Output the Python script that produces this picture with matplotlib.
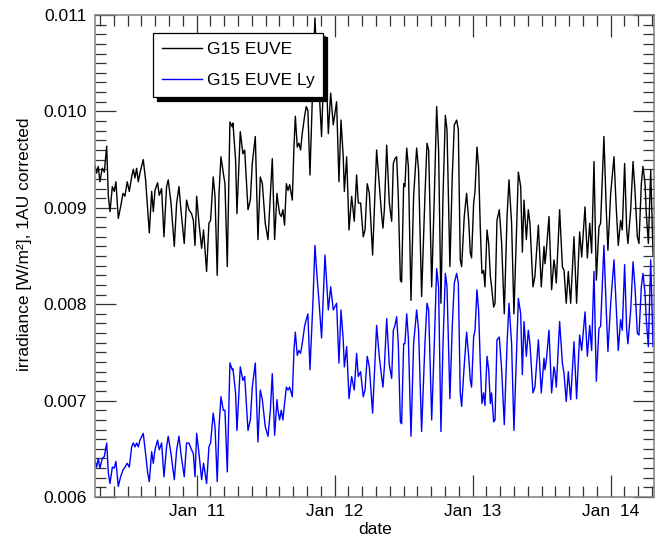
import matplotlib
matplotlib.use("Agg")
import matplotlib.pyplot as plt
from matplotlib.ticker import MultipleLocator, FixedLocator, FixedFormatter

plt.rcParams['font.family'] = ['Liberation Sans', 'DejaVu Sans']

# time in fractional day of January 2014
t_day = [
    10.263, 10.275, 10.287, 10.299, 10.316, 10.331, 10.348, 10.360, 10.372, 10.389,
    10.403, 10.415, 10.432, 10.449, 10.466, 10.480, 10.497, 10.512, 10.529, 10.541,
    10.553, 10.565, 10.577, 10.589, 10.613, 10.630, 10.645, 10.657, 10.674, 10.686,
    10.698, 10.717, 10.729, 10.746, 10.763, 10.782, 10.794, 10.814, 10.838, 10.855,
    10.872, 10.886, 10.910, 10.927, 10.944, 10.963, 10.976, 10.988, 11.000, 11.017,
    11.036, 11.050, 11.072, 11.089, 11.101, 11.120, 11.133, 11.149, 11.162, 11.176,
    11.193, 11.205, 11.222, 11.241, 11.258,
    11.263, 11.282, 11.292, 11.316, 11.335, 11.348, 11.372, 11.389, 11.403, 11.425,
    11.444, 11.461, 11.476, 11.497, 11.517, 11.534, 11.548, 11.565, 11.582, 11.589,
    11.601, 11.613, 11.625, 11.637, 11.650, 11.662, 11.674, 11.693, 11.705, 11.715,
    11.729, 11.741, 11.753, 11.765, 11.782, 11.794, 11.806, 11.821, 11.843, 11.857,
    11.872, 11.886, 11.905, 11.930, 11.954, 11.971, 11.990, 12.014, 12.031, 12.046,
    12.062, 12.070, 12.087, 12.104, 12.123, 12.142, 12.159, 12.171, 12.188, 12.207,
    12.220, 12.236, 12.251,
    12.275, 12.304, 12.323, 12.340, 12.350, 12.360, 12.377, 12.396, 12.413, 12.425,
    12.437, 12.449, 12.461, 12.476, 12.485, 12.500, 12.509, 12.522, 12.534, 12.553,
    12.572, 12.594, 12.608, 12.630, 12.654, 12.669, 12.681, 12.703, 12.722, 12.739,
    12.753, 12.770, 12.785, 12.802, 12.814, 12.835, 12.852, 12.867, 12.884, 12.896,
    12.910, 12.920, 12.939, 12.956, 12.971, 12.983, 12.992, 13.007, 13.017, 13.031,
    13.043, 13.055, 13.067, 13.079, 13.089, 13.104, 13.116, 13.128, 13.137, 13.152,
    13.162, 13.176, 13.193, 13.210, 13.229, 13.249,
    13.263, 13.282, 13.299, 13.331, 13.348, 13.360, 13.372, 13.389, 13.403, 13.415,
    13.437, 13.451, 13.476, 13.497, 13.517, 13.524, 13.534, 13.553, 13.572, 13.589,
    13.596, 13.606, 13.630, 13.650, 13.662, 13.678, 13.693, 13.710, 13.734, 13.753,
    13.775, 13.790, 13.814, 13.831, 13.848, 13.862, 13.879, 13.896, 13.915, 13.927,
    13.951, 13.968, 13.980, 14.000, 14.024, 14.041, 14.055, 14.072, 14.084, 14.101,
    14.116, 14.125, 14.145, 14.162, 14.176, 14.193, 14.205, 14.222, 14.234, 14.249,
    14.258, 14.273, 14.290, 14.307,
]

# G15 EUVE irradiance, 1 AU corrected [W/m^2]
euve = [
    0.00944, 0.00936, 0.00943, 0.00927, 0.00941, 0.00937, 0.00964, 0.00912, 0.00896, 0.00922,
    0.00917, 0.00927, 0.00889, 0.00901, 0.00915, 0.00912, 0.00927, 0.00917, 0.00932, 0.00940,
    0.00931, 0.00941, 0.00927, 0.00936, 0.00950, 0.00929, 0.00898, 0.00874, 0.00917, 0.00896,
    0.00918, 0.00926, 0.00913, 0.00920, 0.00870, 0.00922, 0.00929, 0.00905, 0.00860, 0.00905,
    0.00922, 0.00898, 0.00863, 0.00908, 0.00898, 0.00894, 0.00887, 0.00861, 0.00912, 0.00884,
    0.00858, 0.00877, 0.00834, 0.00884, 0.00887, 0.00932, 0.00912, 0.00830, 0.00915, 0.00953,
    0.00936, 0.00925, 0.00839, 0.00989, 0.00984,
    0.00988, 0.00950, 0.00894, 0.00979, 0.00956, 0.00960, 0.00898, 0.00908, 0.00946, 0.00974,
    0.00867, 0.00932, 0.00925, 0.00884, 0.00867, 0.00912, 0.00951, 0.00867, 0.00915, 0.00906,
    0.00894, 0.00891, 0.00898, 0.00882, 0.00925, 0.00918, 0.00924, 0.00908, 0.00963, 0.00995,
    0.00963, 0.00967, 0.00960, 0.00977, 0.00995, 0.01005, 0.01001, 0.00934, 0.01036, 0.01097,
    0.01046, 0.01026, 0.00974, 0.01078, 0.00977, 0.01019, 0.00986, 0.01010, 0.00927, 0.00991,
    0.00953, 0.00917, 0.00953, 0.00877, 0.00912, 0.00886, 0.00934, 0.00905, 0.00905, 0.00870,
    0.00877, 0.00925, 0.00915,
    0.00851, 0.00960, 0.00925, 0.00893, 0.00879, 0.00898, 0.00965, 0.00905, 0.00886, 0.00946,
    0.00951, 0.00953, 0.00912, 0.00825, 0.00823, 0.00925, 0.00922, 0.00962, 0.00943, 0.00804,
    0.00912, 0.00962, 0.00939, 0.00808, 0.00912, 0.00967, 0.00960, 0.00818, 0.00912, 0.01005,
    0.00960, 0.00801, 0.00912, 0.00996, 0.00981, 0.00839, 0.00932, 0.00986, 0.00991, 0.00981,
    0.00846, 0.00839, 0.00891, 0.00915, 0.00887, 0.00853, 0.00848, 0.00905, 0.00917, 0.00963,
    0.00943, 0.00880, 0.00832, 0.00835, 0.00818, 0.00877, 0.00863, 0.00829, 0.00818, 0.00797,
    0.00801, 0.00887, 0.00898, 0.00863, 0.00790, 0.00891,
    0.00929, 0.00884, 0.00790, 0.00937, 0.00922, 0.00854, 0.00908, 0.00867, 0.00898, 0.00884,
    0.00818, 0.00829, 0.00882, 0.00818, 0.00860, 0.00842, 0.00856, 0.00891, 0.00815, 0.00846,
    0.00839, 0.00822, 0.00898, 0.00839, 0.00835, 0.00801, 0.00834, 0.00801, 0.00870, 0.00801,
    0.00875, 0.00849, 0.00901, 0.00848, 0.00884, 0.00853, 0.00948, 0.00825, 0.00880, 0.00884,
    0.00974, 0.00898, 0.00856, 0.00915, 0.00953, 0.00898, 0.00861, 0.00887, 0.00877, 0.00946,
    0.00877, 0.00863, 0.00898, 0.00948, 0.00918, 0.00870, 0.00863, 0.00925, 0.00943, 0.00925,
    0.00894, 0.00863, 0.00939, 0.00851,
]

# G15 EUVE Lyman-alpha irradiance, 1 AU corrected [W/m^2]
euve_ly = [
    0.00638, 0.00631, 0.00640, 0.00630, 0.00640, 0.00642, 0.00656, 0.00625, 0.00614, 0.00631,
    0.00630, 0.00637, 0.00611, 0.00621, 0.00628, 0.00631, 0.00635, 0.00631, 0.00652, 0.00656,
    0.00652, 0.00656, 0.00652, 0.00659, 0.00666, 0.00645, 0.00625, 0.00616, 0.00647, 0.00635,
    0.00649, 0.00659, 0.00649, 0.00656, 0.00621, 0.00652, 0.00663, 0.00645, 0.00618, 0.00649,
    0.00663, 0.00645, 0.00621, 0.00656, 0.00656, 0.00649, 0.00645, 0.00621, 0.00666, 0.00645,
    0.00618, 0.00635, 0.00614, 0.00652, 0.00656, 0.00687, 0.00673, 0.00616, 0.00673, 0.00704,
    0.00690, 0.00690, 0.00626, 0.00739, 0.00732,
    0.00733, 0.00708, 0.00669, 0.00735, 0.00721, 0.00725, 0.00669, 0.00680, 0.00714, 0.00739,
    0.00657, 0.00711, 0.00701, 0.00673, 0.00663, 0.00690, 0.00728, 0.00664, 0.00701, 0.00690,
    0.00680, 0.00690, 0.00680, 0.00697, 0.00714, 0.00711, 0.00714, 0.00704, 0.00752, 0.00771,
    0.00747, 0.00752, 0.00749, 0.00759, 0.00777, 0.00784, 0.00790, 0.00732, 0.00804, 0.00861,
    0.00829, 0.00804, 0.00765, 0.00851, 0.00794, 0.00818, 0.00794, 0.00801, 0.00739, 0.00794,
    0.00763, 0.00735, 0.00756, 0.00702, 0.00725, 0.00711, 0.00749, 0.00725, 0.00730, 0.00704,
    0.00711, 0.00746, 0.00735,
    0.00687, 0.00778, 0.00746, 0.00725, 0.00714, 0.00735, 0.00785, 0.00737, 0.00723, 0.00773,
    0.00778, 0.00787, 0.00759, 0.00678, 0.00676, 0.00759, 0.00759, 0.00790, 0.00765, 0.00663,
    0.00759, 0.00794, 0.00773, 0.00668, 0.00759, 0.00801, 0.00794, 0.00680, 0.00759, 0.00837,
    0.00818, 0.00668, 0.00759, 0.00832, 0.00818, 0.00702, 0.00777, 0.00822, 0.00832, 0.00822,
    0.00708, 0.00694, 0.00737, 0.00771, 0.00746, 0.00721, 0.00714, 0.00766, 0.00773, 0.00815,
    0.00794, 0.00739, 0.00697, 0.00708, 0.00695, 0.00746, 0.00732, 0.00697, 0.00708, 0.00678,
    0.00680, 0.00763, 0.00766, 0.00732, 0.00675, 0.00759,
    0.00801, 0.00759, 0.00669, 0.00806, 0.00790, 0.00727, 0.00782, 0.00746, 0.00773, 0.00759,
    0.00708, 0.00714, 0.00763, 0.00708, 0.00744, 0.00732, 0.00742, 0.00773, 0.00708, 0.00735,
    0.00730, 0.00714, 0.00782, 0.00739, 0.00728, 0.00699, 0.00730, 0.00701, 0.00761, 0.00702,
    0.00768, 0.00752, 0.00792, 0.00746, 0.00778, 0.00752, 0.00834, 0.00720, 0.00775, 0.00777,
    0.00861, 0.00794, 0.00751, 0.00801, 0.00846, 0.00794, 0.00752, 0.00784, 0.00773, 0.00841,
    0.00773, 0.00759, 0.00794, 0.00844, 0.00818, 0.00770, 0.00768, 0.00818, 0.00832, 0.00811,
    0.00784, 0.00756, 0.00846, 0.00756,
]

day_ticks = [11, 12, 13, 14]
day_labels = ['Jan  11', 'Jan  12', 'Jan  13', 'Jan  14']

fig = plt.figure(figsize=(6.55, 5.42), dpi=100)
ax = fig.add_axes([0.1458, 0.083, 0.8527, 0.8893])

ax.plot(t_day, euve, color='black', lw=1.0, label='G15 EUVE')
ax.plot(t_day, euve_ly, color='#0000ff', lw=1.0, label='G15 EUVE Ly')

ax.set_xlim(10.267, 14.314)
ax.set_ylim(0.006, 0.011)

ax.xaxis.set_major_locator(FixedLocator(day_ticks))
ax.xaxis.set_major_formatter(FixedFormatter(day_labels))
ax.xaxis.set_minor_locator(MultipleLocator(0.1))
ax.yaxis.set_major_locator(MultipleLocator(0.001))
ax.yaxis.set_minor_locator(MultipleLocator(0.0001))
ax.yaxis.set_major_formatter(plt.FuncFormatter(lambda v, p: f'{v:.3f}'))

# IDL-style inward ticks on all four sides
ax.tick_params(which='both', direction='in', top=True, right=True,
               color='0.2', width=0.9, labelsize=12.5)
ax.tick_params(axis='y', which='major', length=15, pad=6)
ax.tick_params(axis='x', which='major', length=16, pad=5)
ax.tick_params(which='minor', length=8)
for sp in ax.spines.values():
    sp.set_color('0.5')
    sp.set_linewidth(1.1)

ax.set_xlabel('date', fontsize=12.5)
ax.set_ylabel('irradiance [W/m²], 1AU corrected', fontsize=12.5)
ax.xaxis.set_label_coords(0.5, -0.052)
ax.yaxis.set_label_coords(-0.114, 0.525)

leg = ax.legend(loc='upper left', bbox_to_anchor=(0.103, 0.963), borderaxespad=0,
                fontsize=12.5, fancybox=False, framealpha=1, edgecolor='black',
                handlelength=2.3, handletextpad=0.3, labelspacing=0.95,
                borderpad=0.5, shadow={'color': 'black', 'alpha': 1, 'ox': 3, 'oy': -3})
leg.get_frame().set_linewidth(0.9)

fig.savefig('out.png', dpi=100)
